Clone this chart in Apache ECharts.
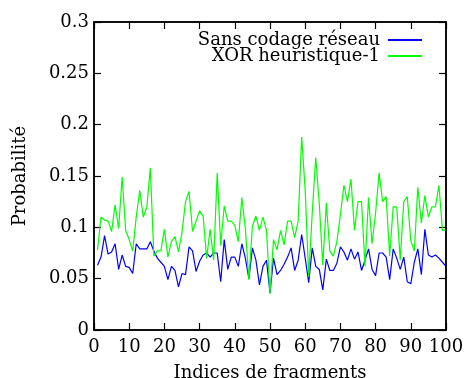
<!DOCTYPE html>
<html lang="fr">
<head>
<meta charset="UTF-8">
<title>Probabilité par fragment</title>
<script src="https://cdn.jsdelivr.net/npm/echarts@6/dist/echarts.min.js"></script>
<style>
  html, body { margin: 0; padding: 0; background: #fff; }
  #chart { width: 466px; height: 378px; }
</style>
</head>
<body>
<div id="chart"></div>
<script>
// indices de fragments 1..100
var indices = [];
for (var k = 1; k <= 100; k++) indices.push(k);

var seriesNames = ['Sans codage réseau', 'XOR heuristique-1'];

// Sans codage réseau (bleu)
var sansCodage = [
  0.063, 0.071, 0.092, 0.074, 0.076, 0.084, 0.059, 0.073, 0.062, 0.061,
  0.055, 0.084, 0.079, 0.079, 0.079, 0.086, 0.077, 0.070, 0.066, 0.062,
  0.049, 0.062, 0.058, 0.042, 0.055, 0.054, 0.081, 0.077, 0.057, 0.067,
  0.073, 0.075, 0.071, 0.075, 0.075, 0.047, 0.088, 0.059, 0.071, 0.071,
  0.062, 0.084, 0.070, 0.050, 0.080, 0.068, 0.044, 0.062, 0.068, 0.036,
  0.070, 0.054, 0.058, 0.064, 0.071, 0.080, 0.058, 0.068, 0.093, 0.070,
  0.046, 0.080, 0.062, 0.059, 0.039, 0.069, 0.058, 0.058, 0.065, 0.081,
  0.076, 0.068, 0.079, 0.069, 0.076, 0.058, 0.068, 0.079, 0.059, 0.053,
  0.075, 0.075, 0.071, 0.049, 0.079, 0.070, 0.059, 0.071, 0.047, 0.045,
  0.066, 0.079, 0.054, 0.098, 0.073, 0.071, 0.073, 0.070, 0.066, 0.062
];

// XOR heuristique-1 (vert)
var xorHeur = [
  0.078, 0.110, 0.107, 0.106, 0.096, 0.122, 0.099, 0.149, 0.097, 0.088,
  0.077, 0.110, 0.136, 0.110, 0.119, 0.158, 0.072, 0.077, 0.077, 0.098,
  0.071, 0.086, 0.091, 0.076, 0.095, 0.125, 0.135, 0.096, 0.106, 0.116,
  0.111, 0.070, 0.098, 0.068, 0.153, 0.082, 0.121, 0.106, 0.106, 0.102,
  0.086, 0.129, 0.099, 0.049, 0.101, 0.111, 0.097, 0.110, 0.097, 0.035,
  0.088, 0.078, 0.097, 0.083, 0.106, 0.106, 0.090, 0.106, 0.188, 0.136,
  0.052, 0.114, 0.168, 0.123, 0.063, 0.124, 0.077, 0.072, 0.086, 0.112,
  0.141, 0.125, 0.147, 0.097, 0.125, 0.125, 0.062, 0.129, 0.084, 0.114,
  0.153, 0.125, 0.130, 0.072, 0.120, 0.120, 0.068, 0.125, 0.130, 0.087,
  0.077, 0.139, 0.104, 0.131, 0.110, 0.120, 0.120, 0.141, 0.097, 0.097
];

function pairs(vals) {
  return indices.map(function (x, i) { return [x, vals[i]]; });
}

var font = '"DejaVu Serif", "Liberation Serif", serif';
var fs = 18;
function axisLine() {
  return { show: true, onZero: false, lineStyle: { color: '#000', width: 1.5 } };
}
function tickIn() {
  return { show: true, inside: true, length: 7, lineStyle: { color: '#000', width: 1.2 } };
}

// une légende par série pour serrer l'interligne comme gnuplot
function legendRow(name, top) {
  return {
    orient: 'vertical', right: 44, top: top, align: 'right', padding: 0,
    itemWidth: 34, itemHeight: 2, icon: 'rect',
    textStyle: { fontFamily: font, fontSize: fs, color: '#000', padding: [0, 3, 0, 0] },
    data: [name]
  };
}

var chart = echarts.init(document.getElementById('chart'));
chart.setOption({
  animation: false,
  backgroundColor: '#fff',
  textStyle: { fontFamily: font, color: '#000' },
  grid: {
    left: 94, right: 20, top: 22, bottom: 48,
    containLabel: false, outerBoundsMode: 'none'
  },
  legend: [legendRow(seriesNames[0], 31), legendRow(seriesNames[1], 47)],
  xAxis: [{
    type: 'value', position: 'bottom', min: 0, max: 100, interval: 10,
    name: 'Indices de fragments', nameLocation: 'middle', nameGap: 34,
    nameTextStyle: { fontFamily: font, fontSize: fs, color: '#000' },
    axisLine: axisLine(), axisTick: tickIn(),
    axisLabel: { fontFamily: font, fontSize: fs, color: '#000', margin: 8 },
    splitLine: { show: false }
  }, {
    type: 'value', position: 'top', min: 0, max: 100, interval: 10,
    axisLine: axisLine(), axisTick: tickIn(),
    axisLabel: { show: false }, splitLine: { show: false }
  }],
  yAxis: [{
    type: 'value', position: 'left', min: 0, max: 0.3, interval: 0.05,
    name: 'Probabilité', nameLocation: 'middle', nameGap: 65, nameRotate: 90,
    nameTextStyle: { fontFamily: font, fontSize: fs, color: '#000' },
    axisLine: axisLine(), axisTick: tickIn(),
    axisLabel: { fontFamily: font, fontSize: fs, color: '#000', margin: 5 },
    splitLine: { show: false }
  }, {
    type: 'value', position: 'right', min: 0, max: 0.3, interval: 0.05,
    axisLine: axisLine(), axisTick: tickIn(),
    axisLabel: { show: false }, splitLine: { show: false }
  }],
  series: [{
    name: seriesNames[0], type: 'line', data: pairs(sansCodage),
    xAxisIndex: 0, yAxisIndex: 0,
    showSymbol: false, symbol: 'none',
    lineStyle: { color: '#0000ff', width: 1.2 }, itemStyle: { color: '#0000ff' }
  }, {
    name: seriesNames[1], type: 'line', data: pairs(xorHeur),
    xAxisIndex: 1, yAxisIndex: 1,
    showSymbol: false, symbol: 'none',
    lineStyle: { color: '#00ff00', width: 1.2 }, itemStyle: { color: '#00ff00' }
  }]
});

// cadre complet du graphe, calé sur les échelles des axes
var pMin = chart.convertToPixel({ xAxisIndex: 0, yAxisIndex: 0 }, [0, 0]);
var pMax = chart.convertToPixel({ xAxisIndex: 0, yAxisIndex: 0 }, [100, 0.3]);
chart.setOption({
  graphic: [{
    type: 'rect', z: 100, silent: true,
    shape: {
      x: pMin[0], y: pMax[1],
      width: pMax[0] - pMin[0], height: pMin[1] - pMax[1]
    },
    style: { fill: 'none', stroke: '#000', lineWidth: 1.5 }
  }]
});
</script>
</body>
</html>
